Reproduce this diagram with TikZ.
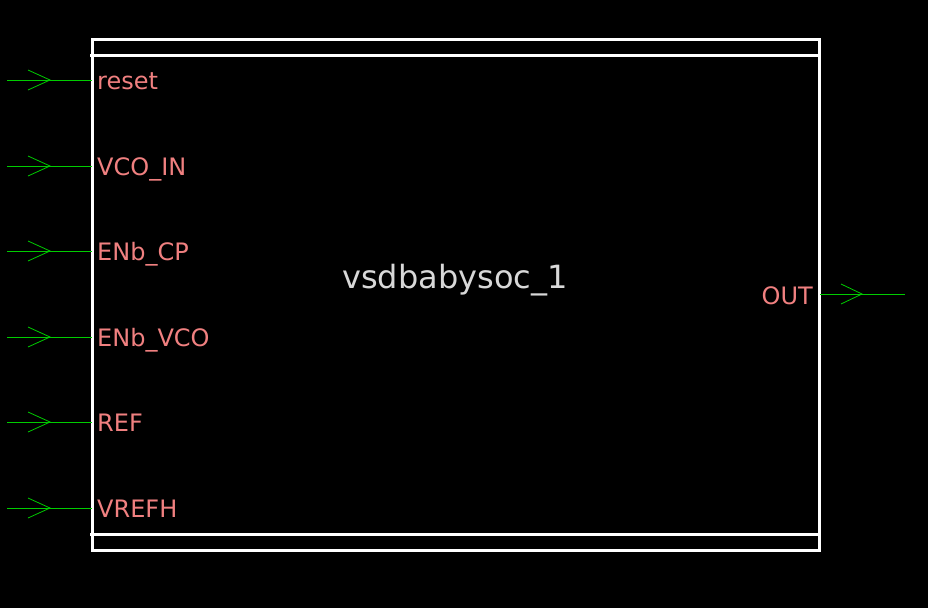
\documentclass[tikz,border=0pt]{standalone}
\usepackage{fontspec}
\setmainfont{DejaVu Sans}
\definecolor{pinred}{HTML}{F08080}
\definecolor{wiregreen}{HTML}{00CC00}
\definecolor{titlegray}{HTML}{D8D8D8}
\begin{document}
\begin{tikzpicture}[x=1pt,y=-1pt,
  boxline/.style={draw=white,line width=3.0pt},
  wire/.style={draw=wiregreen,line width=1pt},
  chev/.style={draw=wiregreen,line width=0.8pt},
  pinlabel/.style={text=pinred,font=\fontsize{24}{28}\selectfont,inner sep=0pt},
  titlelabel/.style={text=titlegray,font=\fontsize{32}{38}\selectfont,inner sep=0pt}]
\fill[black] (0,0) rectangle (928,608);
\useasboundingbox (0,0) rectangle (928,608);
% box
\draw[boxline] (92,39) rectangle (819,550);
\draw[boxline] (90,55) -- (819,55);
\draw[boxline] (90,534) -- (819,534);
% title
\node[titlelabel,anchor=base] (title) at (455,288) {vsdbabysoc\_1};
% input pins
\foreach \nm/\txt/\y in {p1/reset/80,p2/VCO\_IN/166,p3/ENb\_CP/251,p4/ENb\_VCO/337,p5/REF/422,p6/VREFH/508}{
  \coordinate (\nm s) at (7,\y);
  \coordinate (\nm e) at (92,\y);
  \draw[wire] (\nm s) -- (\nm e);
  \draw[chev] (28,\y-10) -- (50,\y) -- (28,\y+10);
  \node[pinlabel,anchor=base west] (\nm l) at (97,\y+9) {\txt};
}
% output pin
\coordinate (os) at (820,294);
\coordinate (oe) at (905,294);
\draw[wire] (os) -- (oe);
\draw[chev] (841,284) -- (862,294) -- (841,304);
\node[pinlabel,anchor=base east] (ol) at (813,304) {OUT};
\end{tikzpicture}
\end{document}
